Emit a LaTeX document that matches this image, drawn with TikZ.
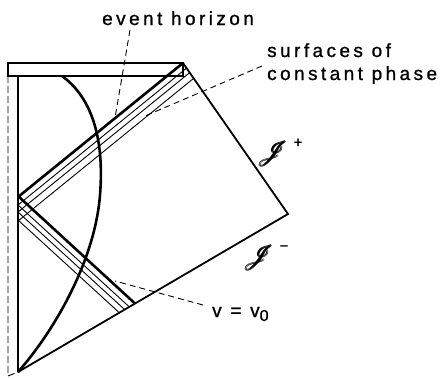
\documentclass[tikz,border=0pt]{standalone}
\usepackage{fontspec}
\setmainfont{Liberation Sans}[LetterSpace=18,FakeBold=1]
\usepackage{amsmath}
\usepackage{mathrsfs}
\begin{document}
\begin{tikzpicture}[x=1pt,y=-1pt,
  outline/.style={line width=1.8pt},
  heavy/.style={line width=2.6pt},
  fine/.style={line width=0.9pt},
  leader/.style={line width=0.9pt,dash pattern=on 6pt off 4pt},
  lbl/.style={inner sep=0pt,font=\fontsize{19}{22}\selectfont},
  scr/.style={inner sep=0pt,font=\fontsize{40}{42}\selectfont},
  sgn/.style={inner sep=0pt,font=\fontsize{15}{15}\selectfont}]
\useasboundingbox (0,0) rectangle (447,378);
% key points
\coordinate (T) at (183,63);
\coordinate (R) at (288,214);
\coordinate (B) at (18,372);
\coordinate (W) at (18,76);
\coordinate (Hs) at (18,197);
\coordinate (Vs) at (18,196);
\coordinate (Ve) at (135,303.5);
% top bar
\draw[outline] (8,63) rectangle (T|-0,76);
% dashed outer wall
\draw[line width=0.9pt,dash pattern=on 7pt off 3pt] (8,76) -- (8,376) -- (B);
% solid wall
\draw[outline] (W) -- (B);
% outer boundary
\draw[outline] (T) -- (R) -- (B);
% star surface
\draw[heavy] (62,76) .. controls (95,100) and (104,145) .. (100,195)
  .. controls (95,260) and (55,330) .. (B);
% event horizon and constant phase surfaces
\draw[heavy] (Hs) -- (T);
\coordinate (u1) at (18,205); \coordinate (u1e) at (186.6,68.1);
\coordinate (u2) at (18,212); \coordinate (u2e) at (189.7,72.6);
\coordinate (u3) at (18,221); \coordinate (u3e) at (193.7,78.3);
\draw[fine] (u1) -- (u1e);
\draw[fine] (u2) -- (u2e);
\draw[fine] (u3) -- (u3e);
% v = v0 line and parallels
\draw[heavy] (Vs) -- (Ve);
\coordinate (d1) at (18,205); \coordinate (d1e) at (129.3,306.9);
\coordinate (d2) at (18,212); \coordinate (d2e) at (124.7,309.6);
\coordinate (d3) at (18,220); \coordinate (d3e) at (119.3,312.7);
\draw[fine] (d1) -- (d1e);
\draw[fine] (d2) -- (d2e);
\draw[fine] (d3) -- (d3e);
% labels
\node[lbl,anchor=base west] (eh) at (102,25) {event horizon};
\node[lbl,anchor=base west] (sf1) at (267,57) {surfaces of};
\node[lbl,anchor=base west] (sf2) at (267,80) {constant phase};
\node[scr] (jp) at (273,154) {$\pmb{\mathscr{J}}$};
\node[sgn] (jps) at (298,143) {+};
\node[scr] (jm) at (259,258) {$\pmb{\mathscr{J}}$};
\node[sgn] (jms) at (284,248) {\textminus};
\node[lbl,anchor=base west] (vv) at (212,317) {v = v\raisebox{-4pt}{\fontsize{16}{16}\selectfont 0}};
% leaders
\coordinate (ehp) at (115,118);
\coordinate (sfp) at (145,116);
\coordinate (vvp) at (115,281);
\draw[leader] (130,30) -- (ehp);
\draw[leader] (262,66) -- (sfp);
\draw[leader] (203,305) -- (vvp);
\end{tikzpicture}
\end{document}
